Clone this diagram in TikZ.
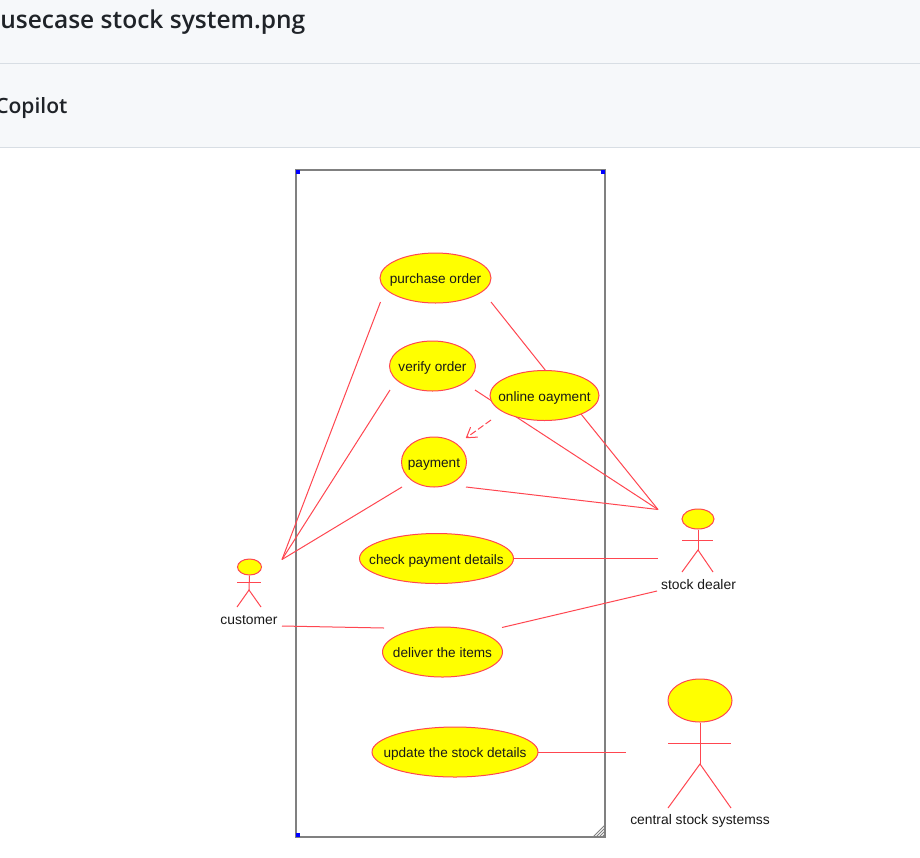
\documentclass[tikz,border=0pt]{standalone}
\usepackage{fontspec}
\setmainfont{Liberation Sans}
\newfontfamily\headfont{Open Sans}[UprightFont={* Semibold},BoldFont={* Bold}]
\usetikzlibrary{shapes.geometric,arrows.meta}
\definecolor{umlred}{HTML}{FF4650}
\definecolor{umlfill}{HTML}{FFFF00}
\definecolor{headbg}{HTML}{F6F8FA}
\definecolor{headline}{HTML}{D8DEE4}
\definecolor{headtext}{HTML}{1F2328}
\definecolor{boxgrey}{HTML}{808080}
\newcommand\uctxt[1]{\makebox[0pt]{\raisebox{-0.42em}[0pt][0pt]{#1}}}
\tikzset{
  x=0.75pt,y=-0.75pt,
  px/.style={line width=#1*0.75pt},
  ucase/.style n args={2}{ellipse,draw=umlred,fill=umlfill,px=1,inner sep=0pt,
    minimum width=#1*0.75pt,minimum height=#2*0.75pt,font=\fontsize{10.2pt}{12pt}\selectfont,text=black!90},
  rel/.style={draw=umlred,px=1},
  lbl/.style={font=\fontsize{10.4pt}{12pt}\selectfont,text=black!90,inner sep=0pt},
  headtitle/.style={font=\headfont\fontsize{18.4pt}{21pt}\selectfont,text=headtext,anchor=base west,inner sep=0pt},
  headsub/.style={font=\headfont\fontsize{15.8pt}{21pt}\selectfont,text=headtext,anchor=base west,inner sep=0pt},
  handle/.style={fill=blue,draw=none,minimum size=3pt,inner sep=0pt},
}
\begin{document}
\begin{tikzpicture}
\useasboundingbox (0,0) rectangle (920,857);
\clip (0,0) rectangle (920,857);
\fill[white] (0,0) rectangle (920,857);
% header
\fill[headbg] (0,0) rectangle (920,147);
\draw[headline,px=1] (0,63.5) -- (920,63.5);
\draw[headline,px=1] (0,147.5) -- (920,147.5);
\node[headtitle] (title) at (0,28) {usecase stock system.png};
\node[headsub] (copilot) at (-5,113) {Copilot};
% system box
\draw[boxgrey,px=1.5] (296,170) rectangle (605,837);
\node[handle] (h1) at (298,172) {};
\node[handle] (h2) at (603,172) {};
\node[handle] (h3) at (298,835) {};
\foreach \d in {3,6,9,12} \draw[boxgrey,px=1] (605-\d,837) -- (605,837-\d);
% end points of connectors
\coordinate (custA) at (282,559.5);
\coordinate (custB) at (282,626);
\coordinate (dealA) at (658,509.5);
\coordinate (dealB) at (658,558.5);
\coordinate (dealC) at (657,591);
\coordinate (centA) at (626,752);
\coordinate (pA) at (380.5,302);
\coordinate (pB) at (491,302);
\coordinate (vA) at (390,390);
\coordinate (vB) at (475,390);
\coordinate (payA) at (402,487);
\coordinate (payB) at (466,487);
\coordinate (oA) at (581,414);
\coordinate (dA) at (384,628);
\coordinate (dB) at (502,627.5);
\coordinate (chkE) at (513,558.5);
\coordinate (updE) at (538,752);
\coordinate (dashA) at (491,420);
\coordinate (dashB) at (466,438);
% connectors under the use cases
\draw[rel] (pA) -- (custA);
\draw[rel] (vA) -- (custA);
\draw[rel] (payA) -- (custA);
\draw[rel] (pB) -- (546,371);
\draw[rel] (vB) -- (dealA);
\draw[rel] (oA) -- (dealA);
\draw[rel] (payB) -- (dealA);
\draw[rel] (chkE) -- (dealB);
\draw[rel] (dB) -- (dealC);
\draw[rel] (custB) -- (dA);
\draw[rel] (updE) -- (centA);
\draw[rel,dashed,dash pattern=on 5pt off 2pt,-{Straight Barb[length=7pt,width=9pt,round]}] (dashA) -- (dashB);
% use cases
\node[ucase={111}{50}] (purchase) at (435.5,278) {\uctxt{purchase order}};
\node[ucase={86}{50}] (verify) at (432.5,366) {\uctxt{verify order}};
\node[ucase={109}{50}] (online) at (544.5,395.5) {\uctxt{online oayment}};
\node[ucase={65}{50}] (payment) at (434,462) {\uctxt{payment}};
\node[ucase={154}{50}] (check) at (436.5,558.5) {\uctxt{check payment details}};
\node[ucase={120}{50}] (deliver) at (442.5,652) {\uctxt{deliver the items}};
\node[ucase={166}{50}] (update) at (455,752) {\uctxt{update the stock details}};
% customer
\node[ucase={24}{16}] (cusHead) at (249.5,567) {};
\coordinate (cusHip) at (249,590);
\draw[rel] (cusHead.south) -- (cusHip);
\draw[rel] (237,582) -- (261,582);
\draw[rel] (237,607) -- (cusHip) -- (261,607);
\node[lbl] (cusLabel) at (249,620) {customer};
% stock dealer
\node[ucase={32}{20}] (dealHead) at (698,519) {};
\coordinate (dealHip) at (698,550);
\draw[rel] (dealHead.south) -- (dealHip);
\draw[rel] (682,540) -- (713,540);
\draw[rel] (682,572) -- (dealHip) -- (713,572);
\node[lbl] (dealLabel) at (698.5,585) {stock dealer};
% central
\node[ucase={64}{43}] (cenHead) at (700,700.5) {};
\coordinate (cenHip) at (700,764);
\draw[rel] (cenHead.south) -- (cenHip);
\draw[rel] (668,743) -- (731,743);
\draw[rel] (668,808) -- (cenHip) -- (731,808);
\node[lbl] (cenLabel) at (700,821) {central stock systemss};
\end{tikzpicture}
\end{document}
